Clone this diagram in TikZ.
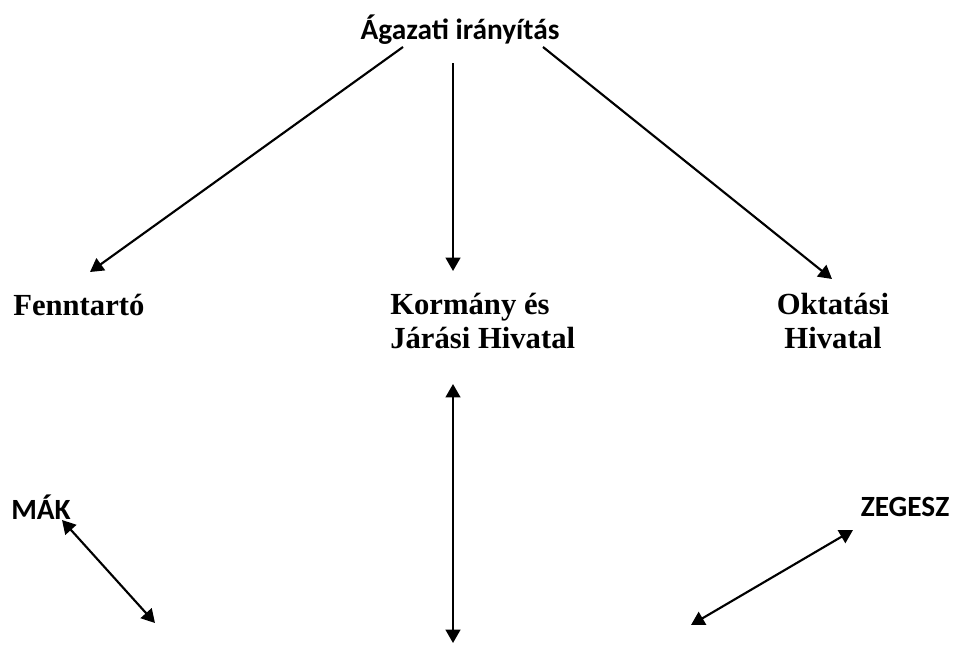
\documentclass[tikz,border=0pt]{standalone}
\usepackage{fontspec}
\usetikzlibrary{arrows.meta}
\newfontfamily\labelsans{Carlito}
\newfontfamily\labelserif{Liberation Serif}

\begin{document}
\begin{tikzpicture}[x=0.75pt,y=-0.75pt,
    sanslabel/.style={font=\labelsans\bfseries\fontsize{22}{26}\selectfont, inner sep=0pt},
    seriflabel/.style={font=\labelserif\bfseries\fontsize{23}{25}\selectfont, inner sep=0pt},
    link/.style={line width=1.6pt, -{Triangle[length=10pt,width=11pt]}},
    duallink/.style={line width=1.6pt, {Triangle[length=10pt,width=11pt]}-{Triangle[length=10pt,width=11pt]}}]
  \useasboundingbox (0,0) rectangle (957,646);

  % labels (two line ones sit on the baseline of their last line)
  \node[sanslabel] (agazat) at (460,30) {Ágazati irányítás};
  \node[seriflabel, anchor=base west] (fenntarto) at (13,315) {Fenntartó};
  \node[seriflabel, anchor=base west, align=left] (kormany) at (390,348) {Kormány és\\Járási Hivatal};
  \node[seriflabel, anchor=base, align=center] (oktatas) at (833,348) {Oktatási\\Hivatal};
  \node[sanslabel] (mak) at (41,507) {MÁK};
  \node[sanslabel] (zegesz) at (905,507) {ZEGESZ};

  % arrow end points
  \coordinate (fentop) at (403,47);
  \coordinate (fentip) at (90,272);
  \coordinate (kortop) at (453,63);
  \coordinate (kortip) at (453,271);
  \coordinate (okttop) at (543,47);
  \coordinate (okttip) at (832,279);
  \coordinate (midtop) at (453,384);
  \coordinate (midbot) at (453,643);
  \coordinate (maktop) at (62,520);
  \coordinate (makbot) at (155,623);
  \coordinate (zegtop) at (853,530);
  \coordinate (zegbot) at (691,625);

  % top level
  \draw[link] (fentop) -- (fentip);
  \draw[link] (kortop) -- (kortip);
  \draw[link] (okttop) -- (okttip);
  % two way links
  \draw[duallink] (midtop) -- (midbot);
  \draw[duallink] (maktop) -- (makbot);
  \draw[duallink] (zegtop) -- (zegbot);
\end{tikzpicture}
\end{document}
